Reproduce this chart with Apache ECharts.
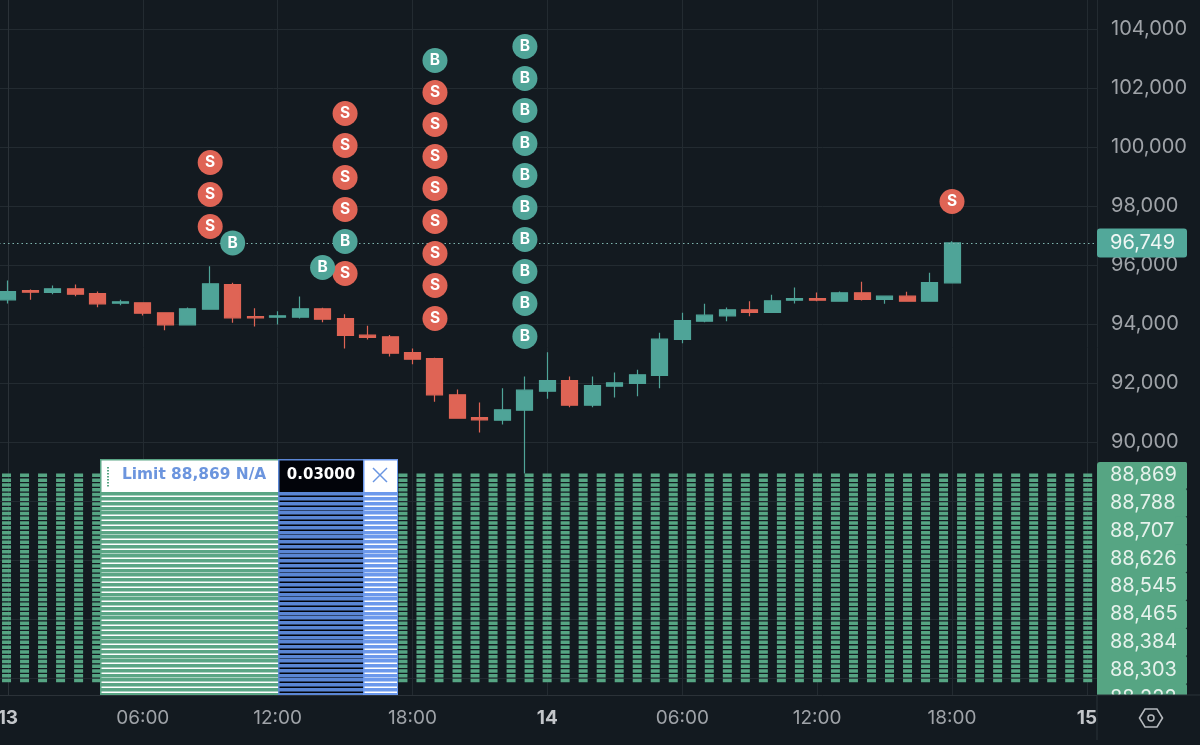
<!DOCTYPE html>
<html>
<head>
<meta charset="utf-8">
<title>BTC chart</title>
<script src="https://cdn.jsdelivr.net/npm/echarts@6/dist/echarts.min.js"></script>
<style>
  html, body { margin: 0; padding: 0; background: #131a20; }
  #chart { width: 1200px; height: 745px; }
</style>
</head>
<body>
<div id="chart"></div>
<script>
// hours since the 13th 00:00, one candle per hour
const hours = [0,1,2,3,4,5,6,7,8,9,10,11,12,13,14,15,16,17,18,19,20,21,22,23,24,25,26,27,28,29,30,31,32,33,34,35,36,37,38,39,40,41,42];
const opens = [94820,95136,95068,95193,95034,94705,94719,94380,93973,94502,95339,94254,94231,94231,94515,94186,93620,93566,93034,92830,91600,90831,90739,91078,91722,92085,91247,91891,91983,92254,93475,94095,94278,94481,94390,94807,94864,94773,95058,94830,94942,94773,95397];
const closes = [95102,95078,95193,95010,94685,94753,94366,93973,94515,95363,94210,94210,94278,94515,94163,93610,93542,93010,92807,91600,90807,90752,91091,91756,92085,91247,91915,92007,92278,93485,94119,94298,94481,94390,94786,94864,94807,95058,94830,94942,94773,95407,96749];
const lows = [94695,94820,95010,94942,94569,94637,94288,93790,93973,94481,94041,93915,93983,94186,94061,93169,93475,92898,92637,91363,90807,90322,90593,88932,91464,91180,91180,91508,91553,91824,93349,94061,94095,94264,94390,94695,94773,94773,94797,94685,94763,94773,95397];
const highs = [95475,95169,95305,95339,95102,94820,94739,94390,94559,95959,95397,94535,94434,94932,94549,94332,93939,93627,93169,92854,91780,91339,91824,92220,93044,92220,92220,92356,92447,93701,94380,94685,94559,94773,94990,95237,95068,95102,95430,94942,95091,95735,96807];

const sellMarkers = [
  [9,99475],[9,98390],[9,97305],
  [15,101136],[15,100051],[15,98966],[15,97881],[15,95712],
  [19,101847],[19,100763],[19,99678],[19,98593],[19,97475],[19,96390],[19,95305],[19,94186],
  [42,98153]
];
const buyMarkers = [
  [10,96750],[14,95915],[15,96797],[19,102932],
  [23,103407],[23,102322],[23,101237],[23,100119],[23,99034],[23,97949],[23,96864],[23,95780],[23,94695],[23,93576]
];

const lastPrice = 96749;
const orderLevels = [88869,88707,88545,88384,88222,88060,87898,87737,87575,87413,87251,87090,86928,86766,86604,86443,86281,86119,85957,85796,85634,85472,85310,85149,84987,84825,84663,84502,84340,84178,84016,83855,83693,83531,83369,83208,83046,82884,82722,82561,82399,82237,82075,81914];
const orderTags = ['88,869','88,788','88,707','88,626','88,545','88,465','88,384','88,303','88,222'];

const timeTicks = [0,6,12,18,24,30,36,42,48];
const timeLabels = ['13','06:00','12:00','18:00','14','06:00','12:00','18:00','15'];
const dayTicks = [0,24,48];

const bg = '#131a20';
const gridColor = '#232b31';
const edgeColor = '#2b3238';
const teal = '#4fa498';
const red = '#df6455';
const orderGreen = '#56a583';
const textGrey = '#9fa3a8';
const uiFont = 'Inter, "Noto Sans", sans-serif';

const chart = echarts.init(document.getElementById('chart'));

function marker(name, data, color, letter) {
  return {
    name: name,
    type: 'scatter',
    z: 5,
    data: data,
    symbol: 'circle',
    symbolSize: 25,
    itemStyle: { color: color, opacity: 1 },
    label: {
      show: true,
      position: 'inside',
      formatter: letter,
      color: '#fff',
      fontFamily: uiFont,
      fontWeight: 700,
      fontSize: 15.5
    }
  };
}

// the dashed green order lines running across the plot
function renderOrderLine(params, api) {
  const y = api.coord([0, api.value(1)])[1];
  return {
    type: 'line',
    shape: { x1: -16, y1: y, x2: 1097, y2: y },
    style: { stroke: orderGreen, lineWidth: 3.5, lineDash: [9, 9.02] },
    silent: true
  };
}

// the stacked order widgets, only the topmost one shows its texts
function renderOrderBox(params, api) {
  const y = Math.round(api.coord([0, api.value(1)])[1]);
  const idx = params.dataIndex;
  const z2 = (orderLevels.length - idx) * 2;
  const top = y - 16;
  const bandTop = y + 17;
  const bottom = y + 20.5;
  const cells = [
    { x0: 100, x1: 279, edge: '#5aa585', fill: '#ffffff' },
    { x0: 278, x1: 364, edge: '#5a86d4', fill: '#02040a' },
    { x0: 363, x1: 398, edge: '#6c99ec', fill: '#ffffff' }
  ];
  const children = [];
  cells.forEach(function (c) {
    children.push({
      type: 'rect', z2: z2,
      shape: { x: c.x0, y: top, width: c.x1 - c.x0, height: bottom - top },
      style: { fill: c.edge }
    });
    children.push({
      type: 'rect', z2: z2 + 1,
      shape: { x: c.x0 + 1.5, y: top + 1.5, width: c.x1 - c.x0 - 2.5, height: bandTop - top - 1.5 },
      style: { fill: c.fill }
    });
  });
  if (idx === 0) {
    const front = z2 + 2;
    children.push({ type: 'line', z2: front, shape: { x1: 108, y1: y - 8, x2: 108, y2: y + 13 },
      style: { stroke: '#5aa585', lineWidth: 2, lineDash: [1.5, 1.5] } });
    children.push({ type: 'text', z2: front,
      style: { x: 122, y: y, text: 'Limit 88,869 N/A', fill: '#6c95de', font: 'bold 15.4px "DejaVu Sans"', textAlign: 'left', textVerticalAlign: 'middle' } });
    children.push({ type: 'text', z2: front,
      style: { x: 321, y: y, text: '0.03000', fill: '#ffffff', font: 'bold 15px "DejaVu Sans"', textAlign: 'center', textVerticalAlign: 'middle' } });
    children.push({ type: 'line', z2: front, shape: { x1: 373, y1: y - 7, x2: 387, y2: y + 7 },
      style: { stroke: '#6a96e2', lineWidth: 1.5 } });
    children.push({ type: 'line', z2: front, shape: { x1: 387, y1: y - 7, x2: 373, y2: y + 7 },
      style: { stroke: '#6a96e2', lineWidth: 1.5 } });
  }
  return { type: 'group', children: children };
}

// stacked price tags on the axis, corner panel and settings icon
const axisGraphics = [
  { type: 'rect', z: 6, shape: { x: 1097, y: 462, width: 88.5, height: 233, r: [3, 0, 0, 0] }, style: { fill: orderGreen } }
];
orderTags.forEach(function (tag, i) {
  const cy = 475 + i * 27.86;
  axisGraphics.push({
    type: 'rect', z: 6,
    shape: { x: 1175, y: i === 0 ? 462 : cy - 13.93, width: 12, height: i === 0 ? 27 : 27.86, r: [1.5, 1.5, 1.5, 1.5] },
    style: { fill: orderGreen }
  });
  axisGraphics.push({
    type: 'text', z: 7, x: 1110, y: cy,
    style: { text: tag, fill: '#e6f2ec', font: '20px ' + uiFont, textVerticalAlign: 'middle' }
  });
});
axisGraphics.push(
  { type: 'rect', z: 8, shape: { x: 1097, y: 695, width: 103, height: 50 }, style: { fill: bg } },
  { type: 'line', z: 9, shape: { x1: 1097, y1: 695, x2: 1200, y2: 695 }, style: { stroke: edgeColor, lineWidth: 1 } },
  { type: 'line', z: 9, shape: { x1: 1097, y1: 695, x2: 1097, y2: 740 }, style: { stroke: edgeColor, lineWidth: 1 } },
  { type: 'polygon', z: 9,
    shape: { points: [[1139.5,718],[1145,709],[1157,709],[1162.5,718],[1157,727],[1145,727]] },
    style: { fill: 'none', stroke: '#b5b9bd', lineWidth: 1.6 } },
  { type: 'circle', z: 9, shape: { cx: 1151, cy: 718, r: 3 }, style: { fill: 'none', stroke: '#b5b9bd', lineWidth: 1.5 } }
);

const option = {
  animation: false,
  backgroundColor: bg,
  grid: { left: -127, top: 0, width: 1224, height: 695, containLabel: false, outerBoundsMode: 'none' },
  xAxis: {
    type: 'value',
    min: -6,
    max: 48.45,
    interval: 6,
    axisLine: { show: true, onZero: false, lineStyle: { color: edgeColor } },
    axisTick: { show: false },
    splitLine: { show: true, lineStyle: { color: gridColor } },
    axisLabel: {
      color: textGrey,
      fontFamily: uiFont,
      fontSize: 19,
      margin: 14,
      showMinLabel: true,
      showMaxLabel: true,
      hideOverlap: false,
      formatter: function (value) {
        const i = timeTicks.indexOf(value);
        if (i < 0) return '';
        return dayTicks.indexOf(value) >= 0 ? '{day|' + timeLabels[i] + '}' : timeLabels[i];
      },
      rich: { day: { color: '#c3c6ca', fontFamily: uiFont, fontSize: 19, fontWeight: 700 } }
    }
  },
  yAxis: {
    type: 'value',
    position: 'right',
    min: 81424,
    max: 104983,
    splitNumber: 12,
    scale: true,
    axisLine: { show: true, lineStyle: { color: edgeColor } },
    axisTick: { show: false },
    splitLine: { show: true, showMaxLine: false, lineStyle: { color: gridColor } },
    axisLabel: {
      color: textGrey,
      fontFamily: uiFont,
      fontSize: 20,
      margin: 14,
      formatter: function (value) {
        return value % 2000 === 0 ? value.toLocaleString('en-US') : '';
      }
    }
  },
  graphic: { elements: axisGraphics },
  series: [
    {
      name: 'order lines',
      type: 'custom',
      z: 1,
      clip: true,
      renderItem: renderOrderLine,
      encode: { x: 0, y: 1 },
      data: orderLevels.map(function (v) { return [0, v]; })
    },
    {
      name: 'BTC',
      type: 'candlestick',
      z: 2,
      clip: true,
      barWidth: 16.5,
      encode: { x: 0, y: [1, 2, 3, 4] },
      itemStyle: { color: teal, color0: red, borderColor: teal, borderColor0: red, borderWidth: 1.2 },
      data: hours.map(function (h, i) { return [h, opens[i], closes[i], lows[i], highs[i]]; }),
      markLine: {
        silent: true,
        symbol: 'none',
        lineStyle: { color: '#7fb5ae', type: [1.5, 3], width: 1 },
        label: {
          show: true,
          position: 'end',
          distance: 0,
          formatter: function (p) { return p.value.toLocaleString('en-US'); },
          color: '#eef6f4',
          fontFamily: uiFont,
          fontSize: 20,
          backgroundColor: '#52a89a',
          borderRadius: 3,
          width: 77,
          height: 29,
          lineHeight: 29,
          padding: [0, 0, 0, 13],
          align: 'left'
        },
        data: [{ yAxis: lastPrice }]
      }
    },
    {
      name: 'order boxes',
      type: 'custom',
      z: 3,
      clip: true,
      renderItem: renderOrderBox,
      encode: { x: 0, y: 1 },
      data: orderLevels.map(function (v) { return [0, v]; })
    },
    marker('sell', sellMarkers, red, 'S'),
    marker('buy', buyMarkers, teal, 'B')
  ]
};

chart.setOption(option);
</script>
</body>
</html>
